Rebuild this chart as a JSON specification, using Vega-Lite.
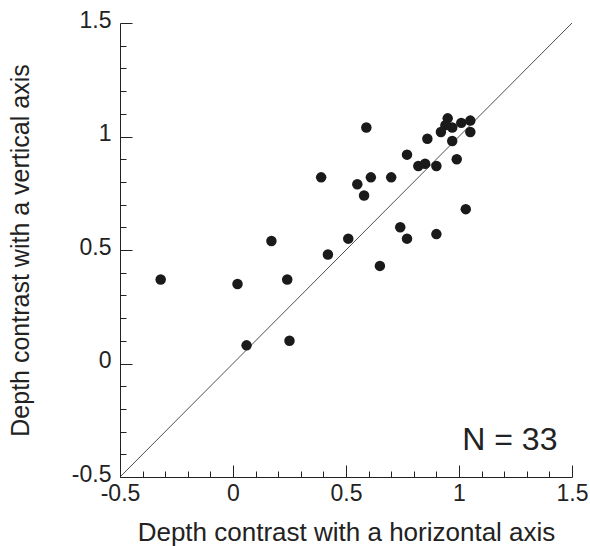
{
  "$schema": "https://vega.github.io/schema/vega-lite/v6.json",
  "width": 452,
  "height": 454,
  "autosize": {"type": "none"},
  "padding": {"left": 120, "top": 23, "right": 18, "bottom": 69},
  "config": {
    "view": {"stroke": null}
  },
  "datasets": {
    "points": [
      {"h": -0.32, "v": 0.37},
      {"h": 0.02, "v": 0.35},
      {"h": 0.06, "v": 0.08},
      {"h": 0.17, "v": 0.54},
      {"h": 0.24, "v": 0.37},
      {"h": 0.25, "v": 0.10},
      {"h": 0.39, "v": 0.82},
      {"h": 0.42, "v": 0.48},
      {"h": 0.51, "v": 0.55},
      {"h": 0.59, "v": 1.04},
      {"h": 0.55, "v": 0.79},
      {"h": 0.61, "v": 0.82},
      {"h": 0.58, "v": 0.74},
      {"h": 0.70, "v": 0.82},
      {"h": 0.65, "v": 0.43},
      {"h": 0.77, "v": 0.92},
      {"h": 0.74, "v": 0.60},
      {"h": 0.77, "v": 0.55},
      {"h": 0.82, "v": 0.87},
      {"h": 0.85, "v": 0.88},
      {"h": 0.86, "v": 0.99},
      {"h": 0.90, "v": 0.87},
      {"h": 0.90, "v": 0.57},
      {"h": 0.92, "v": 1.02},
      {"h": 0.95, "v": 1.08},
      {"h": 0.94, "v": 1.05},
      {"h": 0.97, "v": 1.04},
      {"h": 0.97, "v": 0.98},
      {"h": 0.99, "v": 0.90},
      {"h": 1.01, "v": 1.06},
      {"h": 1.05, "v": 1.07},
      {"h": 1.05, "v": 1.02},
      {"h": 1.03, "v": 0.68}
    ],
    "diag": [
      {"h": -0.5, "v": -0.5},
      {"h": 1.5, "v": 1.5}
    ],
    "note": [
      {"h": 1.225, "v": -0.335, "label": "N = 33"}
    ]
  },
  "encoding": {
    "x": {
      "field": "h", "type": "quantitative",
      "scale": {"domain": [-0.5, 1.5], "nice": false, "zero": false},
      "axis": {
        "title": "Depth contrast with a horizontal axis",
        "values": [-0.5,-0.4,-0.3,-0.2,-0.1,0,0.1,0.2,0.3,0.4,0.5,0.6,0.7,0.8,0.9,1,1.1,1.2,1.3,1.4,1.5],
        "format": "~g",
        "grid": false,
        "domainColor": "#222",
        "tickColor": "#222",
        "tickSize": {"condition": {"test": "abs(datum.value*2 - round(datum.value*2)) < 0.001", "value": -12}, "value": -6},
        "labelExpr": "abs(datum.value*2 - round(datum.value*2)) < 0.001 ? replace(datum.label, '\u2212', '-') : ''",
        "labelFont": "Liberation Sans",
        "labelFontSize": 23,
        "labelColor": "#222",
        "labelPadding": 17,
        "labelOverlap": false,
        "labelFlush": false,
        "titleFont": "Liberation Sans",
        "titleFontSize": 26,
        "titleFontWeight": "normal",
        "titleColor": "#222",
        "titlePadding": 8
      }
    },
    "y": {
      "field": "v", "type": "quantitative",
      "scale": {"domain": [-0.5, 1.5], "nice": false, "zero": false},
      "axis": {
        "title": "Depth contrast with a vertical axis",
        "values": [-0.5,-0.4,-0.3,-0.2,-0.1,0,0.1,0.2,0.3,0.4,0.5,0.6,0.7,0.8,0.9,1,1.1,1.2,1.3,1.4,1.5],
        "format": "~g",
        "grid": false,
        "domainColor": "#222",
        "tickColor": "#222",
        "tickSize": {"condition": {"test": "abs(datum.value*2 - round(datum.value*2)) < 0.001", "value": -12}, "value": -6},
        "labelExpr": "abs(datum.value*2 - round(datum.value*2)) < 0.001 ? replace(datum.label, '\u2212', '-') : ''",
        "labelFont": "Liberation Sans",
        "labelFontSize": 23,
        "labelColor": "#222",
        "labelPadding": 21,
        "labelOffset": -3,
        "labelOverlap": false,
        "labelFlush": false,
        "titleFont": "Liberation Sans",
        "titleFontSize": 25,
        "titleFontWeight": "normal",
        "titleColor": "#222",
        "titlePadding": 38
      }
    }
  },
  "layer": [
    {
      "data": {"name": "diag"},
      "mark": {"type": "line", "color": "#222", "strokeWidth": 0.8}
    },
    {
      "data": {"name": "points"},
      "mark": {"type": "circle", "size": 110, "color": "#1a1a1a", "opacity": 1}
    },
    {
      "data": {"name": "note"},
      "mark": {"type": "text", "fontSize": 32, "font": "Liberation Sans", "color": "#222", "align": "center", "baseline": "middle"},
      "encoding": {
        "text": {"field": "label"}
      }
    }
  ]
}
